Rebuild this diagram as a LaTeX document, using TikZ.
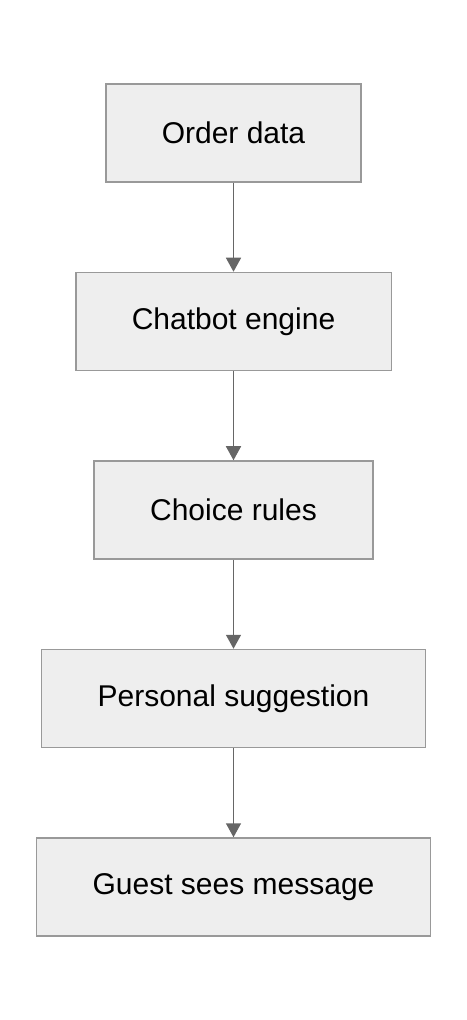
\documentclass[tikz,border=0pt]{standalone}
\usepackage{fontspec}
\setmainfont{Liberation Sans}
\usetikzlibrary{positioning,arrows.meta}
\definecolor{boxfill}{HTML}{EEEEEE}
\definecolor{boxline}{HTML}{999999}
\definecolor{arrowline}{HTML}{666666}
\tikzset{
  stage/.style={draw=boxline, fill=boxfill, line width=0.75pt, rectangle,
    minimum height=49pt, inner xsep=28pt, font=\fontsize{15}{18}\selectfont},
  flow/.style={draw=arrowline, line width=0.75pt, -{Triangle[width=7.5pt,length=7pt]}}
}
\begin{document}
\begin{tikzpicture}[node distance=44.5pt]
        \useasboundingbox (0,0) rectangle (233pt,-510pt);

        % Etapas
        \node[stage] (order) at (116.75pt,-66.5pt) {Order data};
        \node[stage, below=of order] (engine) {Chatbot engine};
        \node[stage, below=of engine] (rules) {Choice rules};
        \node[stage, below=of rules] (suggest) {Personal suggestion};
        \node[stage, below=of suggest] (guest) {Guest sees message};

        % Setas
        \foreach \from/\to in {order/engine,engine/rules,rules/suggest,suggest/guest} {
          \draw[flow] (\from) -- (\to);
        }
      \end{tikzpicture}
\end{document}
